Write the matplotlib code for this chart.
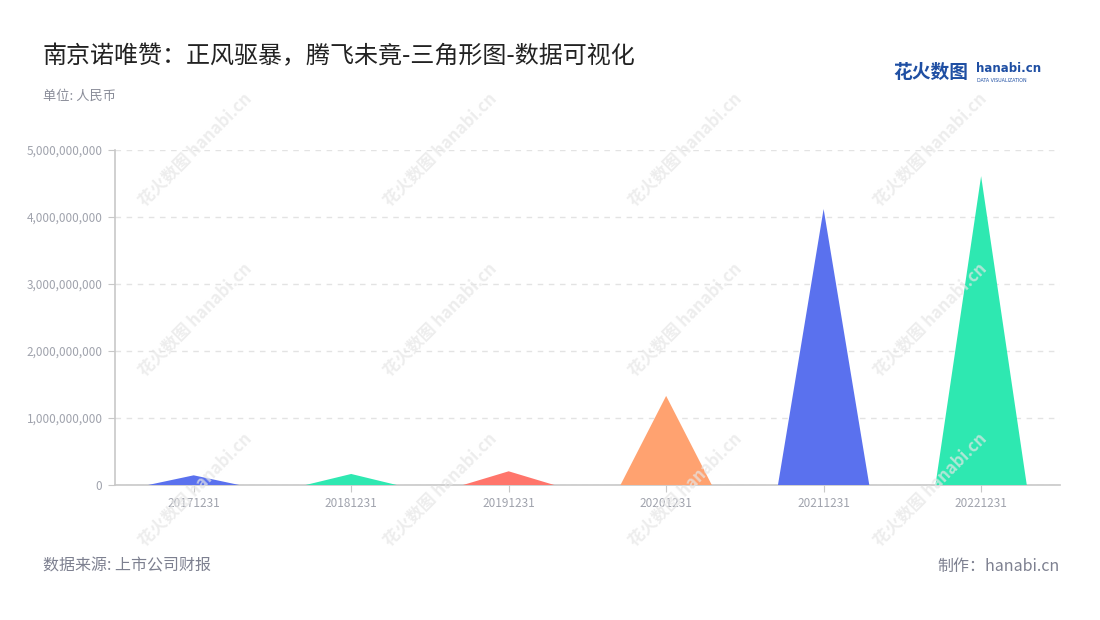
import matplotlib.pyplot as plt
from matplotlib.patches import Polygon
from matplotlib.ticker import FuncFormatter

plt.rcParams['font.family'] = ['Noto Sans CJK SC', 'DejaVu Sans']

# 数据
dates = ["20171231", "20181231", "20191231", "20201231", "20211231", "20221231"]
values = [0.145e9, 0.165e9, 0.205e9, 1.33e9, 4.12e9, 4.61e9]
colors = ["#5a71ee", "#2ee8b1", "#ff756b", "#ffa270", "#5a71ee", "#2ee8b1"]

fig = plt.figure(figsize=(11, 6.2), dpi=100)
ax = fig.add_axes([0.1045, 0.2177, 0.859, 0.5403])

half = 0.29
for i, (v, c) in enumerate(zip(values, colors)):
    tri = Polygon([(i - half, 0), (i, v), (i + half, 0)], closed=True,
                  facecolor=c, edgecolor='none', zorder=3)
    ax.add_patch(tri)

ax.set_xlim(-0.5, len(dates) - 0.5)
ax.set_ylim(0, 5e9)
ax.set_xticks(range(len(dates)))
ax.set_xticklabels(dates)
ax.set_yticks([0, 1e9, 2e9, 3e9, 4e9, 5e9])
ax.yaxis.set_major_formatter(FuncFormatter(lambda v, p: f"{int(v):,}"))

ax.grid(axis='y', linestyle=(0, (4, 4)), color='#e3e3e3', linewidth=1, zorder=0)
for s in ['top', 'right']:
    ax.spines[s].set_visible(False)
for s in ['left', 'bottom']:
    ax.spines[s].set_color('#c8c8c8')
    ax.spines[s].set_linewidth(1.2)
ax.tick_params(axis='both', colors='#c8c8c8', labelcolor='#a0a3ad', labelsize=8.5, length=5)
ax.tick_params(axis='y', pad=4)

# 水印（淡）
for px in [195, 440, 685, 930]:
    for py in [150, 320, 490]:
        fig.text(px / 1100, 1 - py / 620, "花火数图 hanabi.cn", rotation=45, fontsize=12,
                 color='#e6e6e6', alpha=0.7, ha='center', va='center',
                 fontweight='bold', zorder=0)

# 标题
fig.text(0.039, 0.91, "南京诺唯赞：正风驱暴，腾飞未竟-三角形图-数据可视化",
         fontsize=17.3, color='#222222', ha='left', va='center')
fig.text(0.039, 0.845, "单位: 人民币", fontsize=9.5, color='#8a8d99', ha='left', va='center')

# logo
fig.text(0.812, 0.883, "花火数图", fontsize=13.5, color='#1f4fa3', fontweight='bold',
         ha='left', va='center')
fig.text(0.887, 0.889, "hanabi.cn", fontsize=8.5, color='#1f4fa3', fontweight='bold',
         ha='left', va='center', family=['DejaVu Sans'])
fig.text(0.888, 0.870, "DATA VISUALIZATION", fontsize=3.4, color='#1f4fa3',
         ha='left', va='center', family=['DejaVu Sans'])

# 脚注
fig.text(0.039, 0.087, "数据来源: 上市公司财报", fontsize=11.5, color='#7d8090', ha='left', va='center')
fig.text(0.9636, 0.087, "制作：hanabi.cn", fontsize=11.5, color='#7d8090', ha='right', va='center')

fig.savefig("out.png", dpi=100)
